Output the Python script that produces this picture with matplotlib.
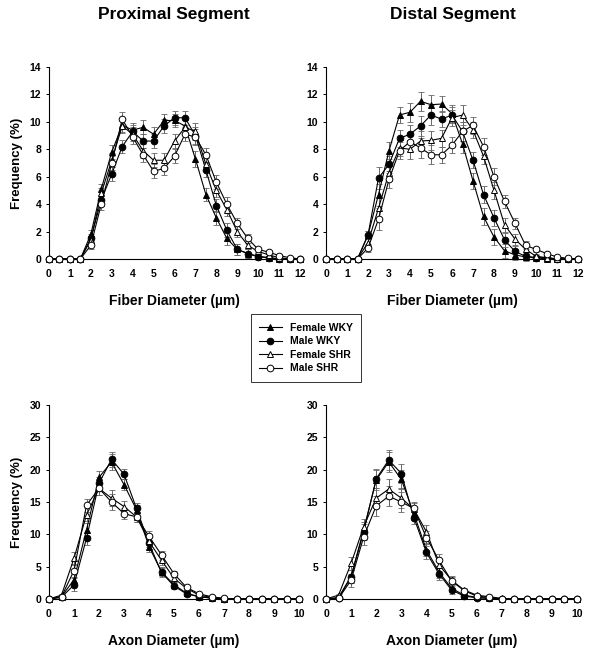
import numpy as np
import matplotlib.pyplot as plt

plt.rcParams['font.family'] = ['Liberation Sans', 'DejaVu Sans']
plt.rcParams['font.weight'] = 'bold'

# x positions (um)
fiber_x = [0, 0.5, 1, 1.5, 2, 2.5, 3, 3.5, 4, 4.5, 5, 5.5, 6, 6.5, 7, 7.5, 8, 8.5,
           9, 9.5, 10, 10.5, 11, 11.5, 12]
axon_x = [0, 0.5, 1, 1.5, 2, 2.5, 3, 3.5, 4, 4.5, 5, 5.5, 6, 6.5, 7, 7.5, 8, 8.5,
          9, 9.5, 10]

# Proximal fiber diameter
prox_fib_fw = [0, 0, 0, 0, 1.8, 5.1, 7.8, 9.75, 9.4, 9.6, 9.1, 10.1, 10.1, 9.7, 7.3, 4.7,
               3.0, 1.5, 0.7, 0.4, 0.2, 0.1, 0, 0, 0]
prox_fib_mw = [0, 0, 0, 0, 1.5, 4.3, 6.2, 8.2, 9.3, 8.6, 8.6, 9.7, 10.3, 10.3, 9.0, 6.5,
               3.9, 2.1, 0.7, 0.4, 0.15, 0.1, 0, 0, 0]
prox_fib_fs = [0, 0, 0, 0, 1.4, 4.8, 7.2, 9.7, 9.1, 7.9, 7.2, 7.2, 8.6, 9.6, 9.3, 6.9,
               5.0, 3.6, 2.0, 1.0, 0.55, 0.3, 0.1, 0, 0]
prox_fib_ms = [0, 0, 0, 0, 1.0, 4.0, 7.0, 10.2, 8.9, 7.6, 6.4, 6.6, 7.5, 9.1, 8.9, 7.6,
               5.6, 4.0, 2.6, 1.5, 0.7, 0.5, 0.25, 0.1, 0]
prox_fib_err = [0, 0, 0, 0, 0.3, 0.4, 0.5, 0.5, 0.5, 0.5, 0.5, 0.5, 0.5, 0.5, 0.6, 0.5,
                0.5, 0.5, 0.4, 0.3, 0.2, 0.1, 0.1, 0, 0]

# Distal fiber diameter
dist_fib_fw = [0, 0, 0, 0, 1.75, 4.7, 7.9, 10.5, 10.7, 11.5, 11.25, 11.3, 10.6, 8.4, 5.7,
               3.1, 1.6, 0.6, 0.3, 0.15, 0.1, 0, 0, 0, 0]
dist_fib_mw = [0, 0, 0, 0, 1.75, 5.9, 6.9, 8.8, 9.1, 9.7, 10.5, 10.2, 10.5, 9.3, 7.2,
               4.7, 3.0, 1.4, 0.55, 0.2, 0.1, 0.1, 0, 0, 0]
dist_fib_fs = [0, 0, 0, 0, 1.2, 3.7, 6.3, 8.1, 8.0, 8.6, 8.65, 8.8, 10.3, 10.5, 9.4,
               7.5, 5.0, 2.5, 1.45, 0.7, 0.2, 0.1, 0, 0, 0]
dist_fib_ms = [0, 0, 0, 0, 0.8, 2.9, 5.8, 7.9, 8.55, 8.1, 7.6, 7.6, 8.3, 9.3, 9.75,
               8.2, 6.0, 4.2, 2.6, 1.0, 0.7, 0.4, 0.15, 0.05, 0]
dist_fib_err = [0, 0, 0, 0, 0.3, 0.8, 0.6, 0.6, 0.7, 0.7, 0.7, 0.6, 0.6, 0.7, 0.6,
                0.6, 0.6, 0.5, 0.4, 0.3, 0.2, 0.1, 0.1, 0, 0]

# Proximal axon diameter
prox_ax_fw = [0, 0.35, 3.0, 10.7, 18.8, 21.2, 17.7, 13.8, 8.1, 4.2, 2.2, 0.9, 0.35, 0.15,
              0.05, 0, 0, 0, 0, 0, 0]
prox_ax_mw = [0, 0.25, 2.2, 9.4, 17.9, 21.6, 19.3, 14.0, 8.6, 4.1, 2.0, 0.8, 0.35, 0.15,
              0, 0, 0, 0, 0, 0, 0]
prox_ax_fs = [0, 0.6, 6.3, 13.0, 17.1, 15.6, 14.3, 12.7, 8.9, 6.0, 3.2, 1.65, 0.6, 0.25,
              0.05, 0, 0, 0, 0, 0, 0]
prox_ax_ms = [0, 0.35, 4.4, 14.5, 17.1, 15.0, 13.2, 12.7, 9.7, 6.8, 3.9, 1.8, 0.8, 0.35,
              0.1, 0, 0, 0, 0, 0, 0]
prox_ax_err = [0, 0.2, 1.0, 1.0, 1.0, 1.2, 0.8, 0.8, 0.8, 0.7, 0.5, 0.3, 0.2, 0.1,
               0, 0, 0, 0, 0, 0, 0]

# Distal axon diameter
dist_ax_fw = [0, 0.25, 3.5, 10.7, 18.4, 21.2, 18.5, 13.2, 7.6, 4.2, 1.65, 0.6, 0.25, 0.1,
              0, 0, 0, 0, 0, 0, 0]
dist_ax_mw = [0, 0.1, 3.45, 10.4, 18.6, 21.5, 19.4, 12.6, 7.2, 3.9, 1.4, 0.45, 0.2, 0.1,
              0, 0, 0, 0, 0, 0, 0]
dist_ax_fs = [0, 0.6, 5.5, 11.2, 15.6, 17.0, 15.6, 13.9, 10.4, 5.3, 2.9, 1.4, 0.6, 0.35,
              0.1, 0, 0, 0, 0, 0, 0]
dist_ax_ms = [0, 0.1, 2.9, 9.6, 14.4, 15.9, 15.0, 14.0, 9.5, 6.0, 2.8, 1.3, 0.45, 0.25,
              0, 0, 0, 0, 0, 0, 0]
dist_ax_err = [0, 0.2, 1.0, 1.2, 1.5, 1.5, 1.5, 1.0, 1.0, 0.9, 0.6, 0.3, 0.2, 0.1,
               0, 0, 0, 0, 0, 0, 0]

groups = ['Female WKY', 'Male WKY', 'Female SHR', 'Male SHR']
styles = [('^', 'black'), ('o', 'black'), ('^', 'white'), ('o', 'white')]

fig = plt.figure(figsize=(6, 6.48), dpi=100)
ax_tl = fig.add_axes([49/600, 1 - 259/648, 251/600, 192/648])
ax_tr = fig.add_axes([326/600, 1 - 259/648, 252/600, 192/648])
ax_bl = fig.add_axes([49/600, 1 - 599/648, 250/600, 194/648])
ax_br = fig.add_axes([326/600, 1 - 599/648, 251/600, 194/648])

panels = [
    (ax_tl, fiber_x, [prox_fib_fw, prox_fib_mw, prox_fib_fs, prox_fib_ms], prox_fib_err),
    (ax_tr, fiber_x, [dist_fib_fw, dist_fib_mw, dist_fib_fs, dist_fib_ms], dist_fib_err),
    (ax_bl, axon_x, [prox_ax_fw, prox_ax_mw, prox_ax_fs, prox_ax_ms], prox_ax_err),
    (ax_br, axon_x, [dist_ax_fw, dist_ax_mw, dist_ax_fs, dist_ax_ms], dist_ax_err),
]

handles = []
for ax, xs, series, err in panels:
    for i, (ys, (m, fc)) in enumerate(zip(series, styles)):
        ax.errorbar(xs, ys, yerr=err, fmt='none', ecolor='0.4', elinewidth=0.7,
                    capsize=2, capthick=0.6, clip_on=False, zorder=2)
        ln, = ax.plot(xs, ys, '-', color='black', lw=0.8, marker=m, ms=4.8,
                      mfc=fc, mec='black', mew=0.7, clip_on=False, zorder=3 + i,
                      label=groups[i])
        if ax is ax_tl:
            handles.append(ln)
    for s in ['top', 'right']:
        ax.spines[s].set_visible(False)
    ax.tick_params(labelsize=7.5, width=0.7, direction='out')
    ax.tick_params(axis='y', length=2.5, pad=3)
    ax.tick_params(axis='x', length=0, pad=7)
    for lbl in ax.get_xticklabels() + ax.get_yticklabels():
        lbl.set_fontweight('bold')

for ax in (ax_tl, ax_tr):
    ax.set_xlim(0, 12)
    ax.set_ylim(0, 14)
    ax.set_xticks(range(0, 13))
    ax.set_yticks(range(0, 15, 2))
    ax.set_xlabel('Fiber Diameter (\u00b5m)', fontsize=10, fontweight='bold', labelpad=11)
for ax in (ax_bl, ax_br):
    ax.set_xlim(0, 10)
    ax.set_ylim(0, 30)
    ax.set_xticks(range(0, 11))
    ax.set_yticks(range(0, 31, 5))
    ax.set_xlabel('Axon Diameter (\u00b5m)', fontsize=10, fontweight='bold', labelpad=11)
for ax in (ax_tl, ax_bl):
    ax.set_ylabel('Frequency (%)', fontsize=9.5, fontweight='bold', labelpad=5)

fig.text(174/600, 1 - 15/648, 'Proximal Segment', ha='center', va='center',
         fontsize=12.5, fontweight='bold')
fig.text(453/600, 1 - 15/648, 'Distal Segment', ha='center', va='center',
         fontsize=12.5, fontweight='bold')

leg = fig.legend(handles=handles, loc='center', bbox_to_anchor=(306/600, 1 - 348/648),
                 fontsize=7.5, frameon=True, fancybox=False, edgecolor='black',
                 handlelength=2.2, borderpad=0.8, labelspacing=0.35)
leg.get_frame().set_linewidth(0.7)
for t in leg.get_texts():
    t.set_fontweight('bold')

fig.savefig('out.png', dpi=100)
